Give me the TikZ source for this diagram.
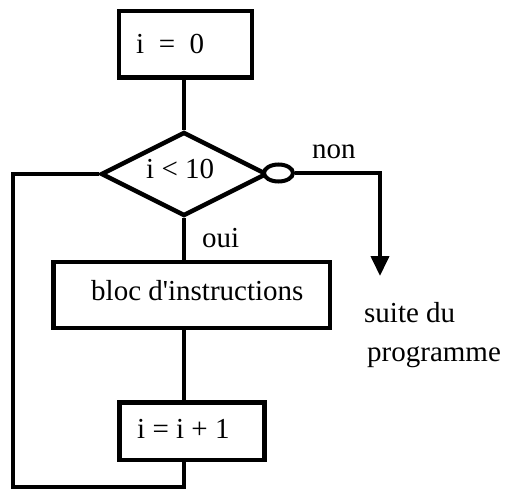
\documentclass[tikz,border=0pt]{standalone}
\usepackage{fontspec}
\setmainfont{Liberation Serif}
\usetikzlibrary{shapes.geometric,arrows.meta}
\begin{document}
\begin{tikzpicture}[x=1pt,y=-1pt,
  box/.style={draw,line width=4.5pt,rectangle,inner sep=0pt},
  conn/.style={line width=4pt},
  loopline/.style={line width=3.4pt},
  txt/.style={anchor=base west,inner sep=0pt,font=\fontsize{29pt}{34pt}\selectfont}]
\useasboundingbox (0,0) rectangle (509,490);
% boxes
\node[box,minimum width=133pt,minimum height=66.5pt] (init) at (185.5,44) {};
\node[draw,line width=4.5pt,diamond,inner sep=0pt,minimum width=166pt,minimum height=84pt] (dia) at (184,174) {};
\node[draw,line width=4pt,ellipse,fill=white,inner sep=0pt,minimum width=29pt,minimum height=17pt] (ell) at (278.5,173) {};
\node[box,minimum width=276.5pt,minimum height=66pt] (bloc) at (191.75,295) {};
\node[box,minimum width=145pt,minimum height=57.5pt] (inc) at (192,431) {};
% texts
\node[txt] (t0) at (136,53) {i\ \ =\ \ 0};
\node[txt] (t1) at (146,178) {i < 10};
\node[txt] (tnon) at (312,158) {non};
\node[txt] (toui) at (202,247) {oui};
\node[txt] (tbloc) at (91,300) {bloc d\textquotesingle instructions};
\node[txt] (tinc) at (137,438) {i = i + 1};
\node[txt] (tsuite) at (364,322) {suite du};
\node[txt] (tprog) at (367,361) {programme};
% coordinates
\coordinate (nonc) at (380,173);
\coordinate (out) at (380,276);
\coordinate (lt) at (13,174);
\coordinate (lb) at (13,487);
\coordinate (bb) at (184,487);
% connectors
\draw[conn] (dia.north |- init.south) -- (dia.north);
\draw[conn] (dia.south) -- (dia.south |- bloc.north);
\draw[conn] (dia.south |- bloc.south) -- (dia.south |- inc.north);
\draw[conn,-{Triangle[width=18pt,length=20pt]}] (ell.east) -- (nonc) -- (out);
\draw[loopline] (dia.west) -- (lt) -- (lb) -- (bb) -- (bb |- inc.south);
\end{tikzpicture}
\end{document}
